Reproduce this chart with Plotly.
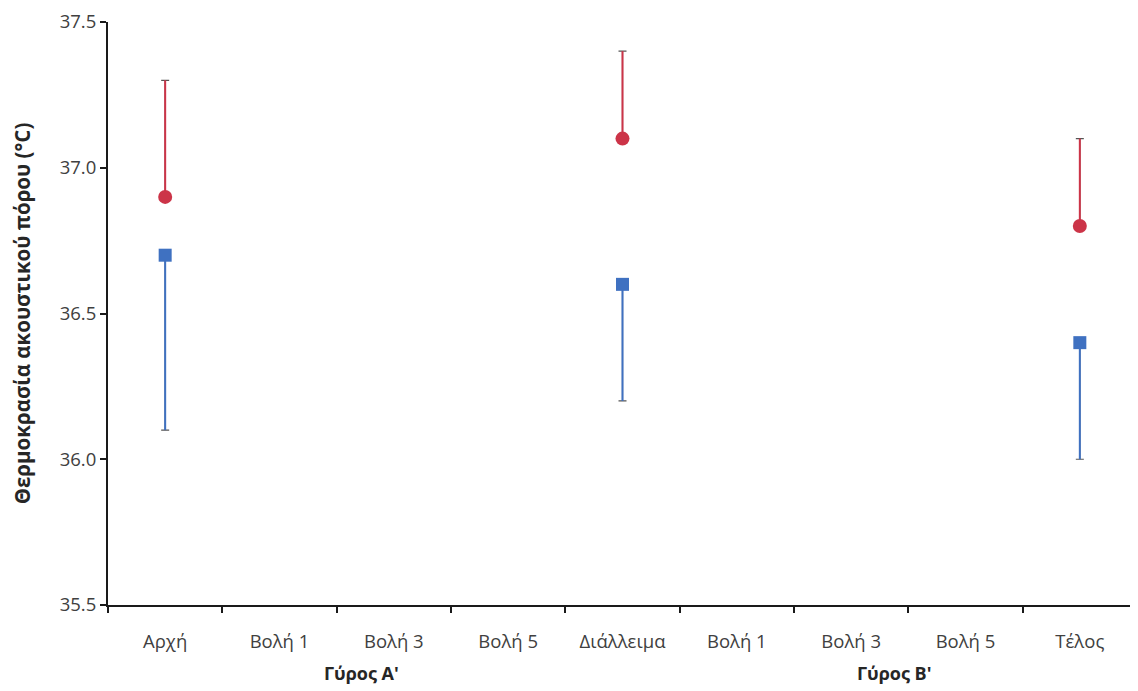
import plotly.graph_objects as go

categories = ["Αρχή", "Βολή 1", "Βολή 3", "Βολή 5", "Διάλλειμα", "Βολή 1", "Βολή 3", "Βολή 5", "Τέλος"]
groups = ["Γύρος Α'", "Γύρος Β'"]
group_pos = [1.72, 6.38]

red_mean = [36.9, None, None, None, 37.1, None, None, None, 36.8]
red_err_up = [0.4, None, None, None, 0.3, None, None, None, 0.3]
blue_mean = [36.7, None, None, None, 36.6, None, None, None, 36.4]
blue_err_down = [0.6, None, None, None, 0.4, None, None, None, 0.4]

x = list(range(len(categories)))
RED = "#CC3448"
BLUE = "#3F71C1"
CAP = "#555555"
FONT = "Open Sans"

zeros_red = [0 if v is not None else None for v in red_err_up]
zeros_blue = [0 if v is not None else None for v in blue_err_down]

fig = go.Figure()

# grey caps (underneath)
fig.add_trace(go.Scatter(
    x=x, y=red_mean, mode="markers", marker=dict(size=1, opacity=0),
    error_y=dict(type="data", symmetric=False, array=red_err_up, arrayminus=zeros_red,
                 color=CAP, thickness=1.2, width=4),
    showlegend=False, hoverinfo="skip"))
fig.add_trace(go.Scatter(
    x=x, y=blue_mean, mode="markers", marker=dict(size=1, opacity=0),
    error_y=dict(type="data", symmetric=False, array=zeros_blue, arrayminus=blue_err_down,
                 color=CAP, thickness=1.2, width=4),
    showlegend=False, hoverinfo="skip"))

# coloured stems and markers
fig.add_trace(go.Scatter(
    x=x, y=red_mean, mode="markers",
    marker=dict(symbol="circle", size=14, color=RED, line=dict(width=0)),
    error_y=dict(type="data", symmetric=False, array=red_err_up, arrayminus=zeros_red,
                 color=RED, thickness=2, width=0),
    showlegend=False))
fig.add_trace(go.Scatter(
    x=x, y=blue_mean, mode="markers",
    marker=dict(symbol="square", size=13, color=BLUE, line=dict(width=0)),
    error_y=dict(type="data", symmetric=False, array=zeros_blue, arrayminus=blue_err_down,
                 color=BLUE, thickness=2, width=0),
    showlegend=False))

for g, p in zip(groups, group_pos):
    fig.add_annotation(x=p, xref="x", y=0, yref="paper", yshift=-68, text=g, showarrow=False,
                       font=dict(family=FONT, size=18, color="#262626", weight="bold"), yanchor="middle")

fig.update_layout(
    width=1130, height=683,
    margin=dict(l=100, r=1, t=14, b=86, autoexpand=False),
    paper_bgcolor="white", plot_bgcolor="white",
    font=dict(family=FONT, size=18, color="#404040"),
    xaxis=dict(
        range=[-0.5, 8.5], tickmode="array", tickvals=x, ticktext=categories,
        ticks="", showgrid=False, zeroline=False,
        showline=True, linecolor="#1a1a1a", linewidth=2,
        minor=dict(tick0=-0.5, dtick=1, ticks="outside", ticklen=6, tickcolor="#1a1a1a", tickwidth=2, showgrid=False),
        tickfont=dict(family=FONT, size=18.5, color="#404040"),
        ticklabelstandoff=19,
    ),
    yaxis=dict(
        range=[35.5, 37.5], dtick=0.5, tick0=35.5, tickformat=".1f",
        ticks="outside", ticklen=6, tickcolor="#1a1a1a", tickwidth=2,
        showgrid=False, zeroline=False, showline=True, linecolor="#1a1a1a", linewidth=2,
        tickfont=dict(family=FONT, size=18.5, color="#404040"),
        automargin=False,
        title=dict(text="Θερμοκρασία ακουστικού πόρου (°C)", standoff=25,
                   font=dict(family=FONT, size=20.5, color="#262626", weight="bold")),
    ),
)

fig.write_html("out.html")
